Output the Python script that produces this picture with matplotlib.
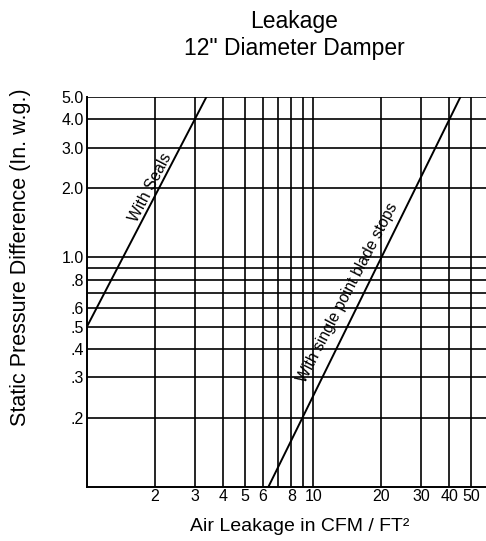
import numpy as np
import matplotlib
matplotlib.use("Agg")
import matplotlib.pyplot as plt

plt.rcParams['font.family'] = ['Liberation Sans', 'DejaVu Sans']

# grid lines / ticks
x_grid = [2, 3, 4, 5, 6, 7, 8, 9, 10, 20, 30, 40, 50]
x_labels = {2: '2', 3: '3', 4: '4', 5: '5', 6: '6', 8: '8', 10: '10',
            20: '20', 30: '30', 40: '40', 50: '50'}
y_grid = [0.2, 0.3, 0.4, 0.5, 0.6, 0.7, 0.8, 0.9, 1.0, 2.0, 3.0, 4.0, 5.0]
y_labels = {0.2: '.2', 0.3: '.3', 0.4: '.4', 0.5: '.5', 0.6: '.6', 0.8: '.8',
            1.0: '1.0', 2.0: '2.0', 3.0: '3.0', 4.0: '4.0', 5.0: '5.0'}

# leakage curves (CFM/ft2 vs in. w.g.)
seals_x = [1.0, 3.37]
seals_y = [0.5, 5.0]
stops_x = [6.33, 44.7]
stops_y = [0.1, 5.0]

fig = plt.figure(figsize=(4.86, 5.41), dpi=100)
ax = fig.add_axes([0.179, 0.0998, 0.821, 0.7209])
ax.set_xscale('log')
ax.set_yscale('log')
ax.set_xlim(1, 58)
ax.set_ylim(0.1, 5.0)

for xv in x_grid:
    ax.axvline(xv, color='black', lw=1.2)
for yv in y_grid:
    ax.axhline(yv, color='black', lw=1.2)

ax.plot(seals_x, seals_y, color='black', lw=1.4)
ax.plot(stops_x, stops_y, color='black', lw=1.4)

ax.text(1.9, 2.02, 'With Seals', rotation=62.5, ha='center', va='center',
        fontsize=11.3)
ax.text(14.2, 0.70, 'With single point blade stops', rotation=62.5,
        ha='center', va='center', fontsize=11.3)

ax.set_xticks(list(x_labels.keys()))
ax.set_xticklabels(list(x_labels.values()))
ax.set_yticks(list(y_labels.keys()))
ax.set_yticklabels(list(y_labels.values()))
ax.minorticks_off()
ax.tick_params(length=0, labelsize=11.5)
ax.tick_params(axis='x', pad=1.5)
ax.tick_params(axis='y', pad=2.3)

for s in ['top', 'right']:
    ax.spines[s].set_visible(False)
for s in ['left', 'bottom']:
    ax.spines[s].set_linewidth(1.4)

ax.set_xlabel('Air Leakage in CFM / FT\u00b2', fontsize=14)
ax.set_ylabel('Static Pressure Difference (In. w.g.)', fontsize=15.5)
ax.xaxis.set_label_coords(0.533, -0.079)
ax.yaxis.set_label_coords(-0.140, 0.588)

fig.text(0.606, 0.948, 'Leakage', ha='center', va='baseline', fontsize=16.5)
fig.text(0.606, 0.898, '12" Diameter Damper', ha='center', va='baseline', fontsize=16.5)

fig.savefig('out.png', dpi=100)
